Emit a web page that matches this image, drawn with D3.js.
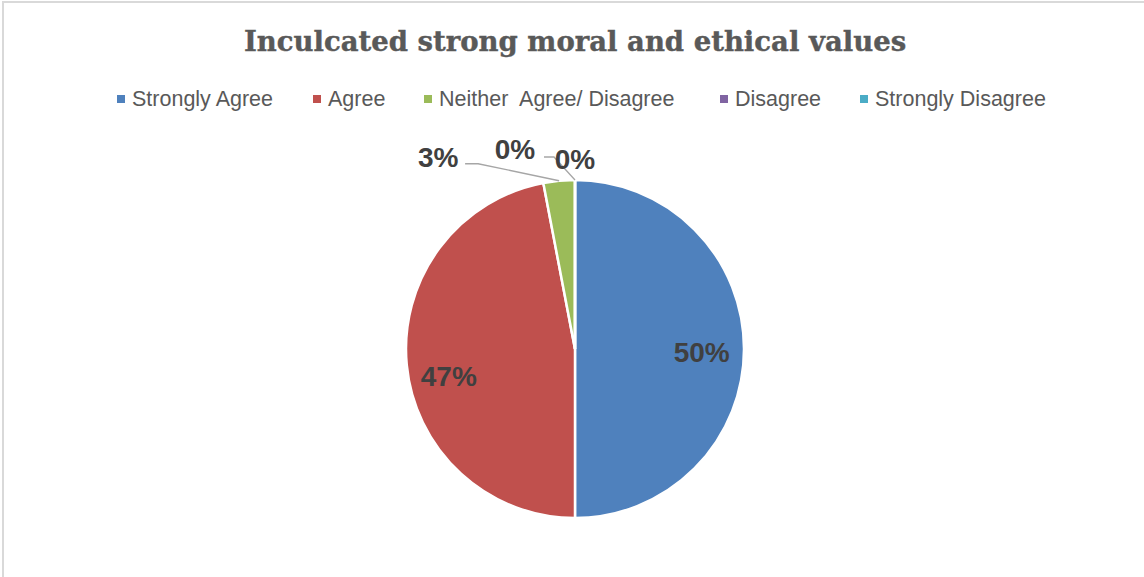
<!DOCTYPE html>
<html><head><meta charset="utf-8">
<script src="https://cdn.jsdelivr.net/npm/d3@7"></script>
<style>body{margin:0;background:#fff}svg{display:block}</style>
</head><body><div id="chart"></div>
<script>
const title = "Inculcated strong moral and ethical values";
const categories = ["Strongly Agree", "Agree", "Neither  Agree/ Disagree", "Disagree", "Strongly Disagree"];
const values = [50, 47, 3, 0, 0];
const colors = ["#4f81bd", "#c0504d", "#9bbb59", "#8064a2", "#4bacc6"];

const W = 1144, H = 577;
const svg = d3.select("#chart").append("svg").attr("width", W).attr("height", H);
svg.append("rect").attr("x", 3).attr("y", 2).attr("width", W + 10).attr("height", H + 10)
  .attr("fill", "#fff").attr("stroke", "#d9d9d9").attr("stroke-width", 2);

svg.append("text").attr("x", 575).attr("y", 51).attr("text-anchor", "middle")
  .attr("font-family", "DejaVu Serif").attr("font-weight", "bold").attr("font-size", 27.5)
  .attr("fill", "#595959").attr("stroke", "#595959").attr("stroke-width", 0.4).text(title);

// legend
const legendPos = [117, 313, 424, 720, 860];
const lg = svg.append("g");
categories.forEach((c, i) => {
  const g = lg.append("g").attr("transform", `translate(${legendPos[i]},0)`);
  g.append("rect").attr("x", 0).attr("y", 95).attr("width", 8).attr("height", 8).attr("fill", colors[i]);
  g.append("text").attr("x", 15).attr("y", 106).attr("font-family", "Liberation Sans, Arial")
    .attr("font-size", 21.5).attr("fill", "#595959").attr("xml:space", "preserve").style("white-space", "pre").text(c);
});

const cx = 575, cy = 349, r = 169;
const pie = d3.pie().sort(null).value(d => d)(values);
const arc = d3.arc().innerRadius(0).outerRadius(r);
const labelArc = d3.arc().innerRadius(r * 0.75).outerRadius(r * 0.75);
const outerArc = d3.arc().innerRadius(r).outerRadius(r);
const g = svg.append("g").attr("transform", `translate(${cx},${cy})`);
g.selectAll("path.slice").data(pie).join("path").attr("class", "slice")
  .attr("d", arc).attr("fill", (d, i) => colors[i]).attr("stroke", "#fff").attr("stroke-width", 2.5);

const fmt = d3.format(".0%");
const total = d3.sum(values);
// outside label offsets for small slices (layout only)
const outside = {2: [-121, -24], 3: [-60, -31], 4: [0, -21]};
pie.forEach((d, i) => {
  const txt = fmt(values[i] / total);
  if (outside[i]) {
    const p = outerArc.centroid(d);
    const lx = p[0] + outside[i][0], ly = p[1] + outside[i][1];
    if (i === 2) {
      g.append("polyline").attr("points", [[lx + 27, ly + 7], [lx + 40, ly + 7], p].map(q => q.join(",")).join(" "))
        .attr("fill", "none").attr("stroke", "#a6a6a6").attr("stroke-width", 1.3);
    }
    if (i === 4) {
      g.append("polyline").attr("points", [[lx - 31, ly - 2], [lx - 21, ly - 2], [p[0], p[1]]].map(q => q.join(",")).join(" "))
        .attr("fill", "none").attr("stroke", "#a6a6a6").attr("stroke-width", 1.3);
    }
    g.append("text").attr("x", lx).attr("y", ly).attr("text-anchor", "middle").attr("dy", "0.35em")
      .attr("font-family", "Liberation Sans, Arial").attr("font-weight", "bold").attr("font-size", 28)
      .attr("fill", "#404040").text(txt);
  } else {
    const p = labelArc.centroid(d);
    g.append("text").attr("x", p[0]).attr("y", p[1] + (i === 1 ? 15 : 3)).attr("text-anchor", "middle").attr("dy", "0.35em")
      .attr("font-family", "Liberation Sans, Arial").attr("font-weight", "bold").attr("font-size", 28)
      .attr("fill", "#404040").text(txt);
  }
});
</script></body></html>
